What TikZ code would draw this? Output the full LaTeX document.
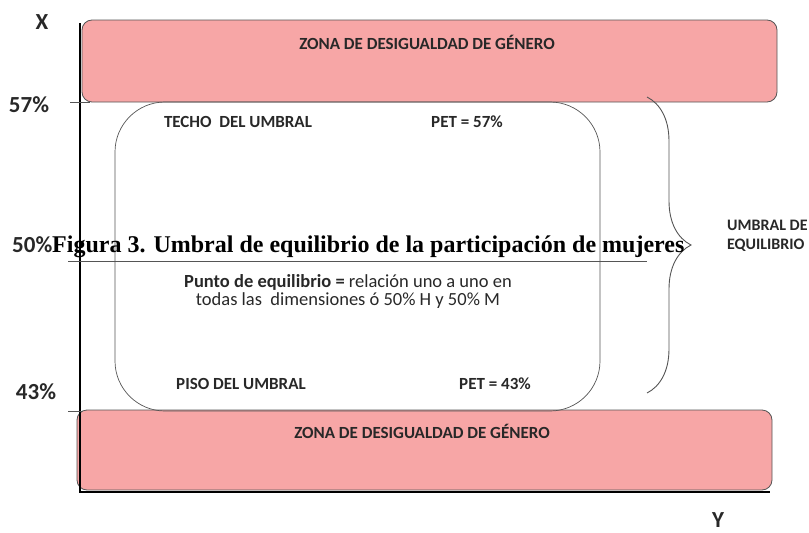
\documentclass[tikz,border=0pt]{standalone}
\usepackage{fontspec}
\setmainfont{Carlito}
\newfontfamily\figfont{Liberation Serif}
\usetikzlibrary{decorations.pathreplacing}
\definecolor{zonafill}{RGB}{247,166,166}
\definecolor{zonaline}{RGB}{85,85,85}
\definecolor{txtgray}{RGB}{40,40,40}

\begin{document}
\begin{tikzpicture}[x=1pt,y=-1pt]
	\tikzstyle{every node}+=[inner sep=0pt]
	\tikzstyle{zona}=[draw=zonaline, fill=zonafill, rounded corners=10pt, line width=0.8pt]
	\tikzstyle{umbral}=[draw=zonaline, rounded corners=50pt, line width=0.7pt]
	\tikzstyle{eje}=[black, line width=1.6pt]
	\tikzstyle{marca}=[zonaline, line width=0.8pt]
	\tikzstyle{caja}=[font=\fontsize{17}{18}\selectfont\bfseries, text=txtgray]
	\tikzstyle{pct}=[font=\fontsize{23}{24}\selectfont\bfseries, text=txtgray]
	\useasboundingbox (0,0) rectangle (809,533);
	% zonas de desigualdad
	\node[zona, minimum width=695pt, minimum height=82pt] (zonaSup) at (429.5,61) {};
	\node[zona, minimum width=695pt, minimum height=80pt] (zonaInf) at (424.5,450) {};
	\node[caja] (txtSup) at (427,42) {ZONA DE DESIGUALDAD DE GÉNERO};
	\node[caja] (txtInf) at (422,431) {ZONA DE DESIGUALDAD DE GÉNERO};
	% umbral
	\node[umbral, minimum width=485pt, minimum height=309pt] (umbral) at (357.5,256.5) {};
	\node[caja] (techo) at (238,122) {TECHO \ DEL UMBRAL};
	\node[caja] (petSup) at (467,122) {PET = 57\%};
	\node[caja] (piso) at (241,384) {PISO DEL UMBRAL};
	\node[caja] (petInf) at (495,384) {PET = 43\%};
	\node[font=\fontsize{18.5}{18}\selectfont, text=txtgray, align=center] (punto) at (348,291)
		{\textbf{Punto de equilibrio =} relación uno a uno en\\todas las \ dimensiones ó 50\% H y 50\% M};
	% ejes
	\coordinate (ejeTop) at (80,23);
	\coordinate (origen) at (80,492);
	\coordinate (ejeFin) at (770,492);
	\draw[eje] (ejeTop) -- (origen) -- (ejeFin);
	\draw[marca] (70,102) -- (90,102);
	\draw[marca] (68,411) -- (82,411);
	\draw[marca] (68,261) -- (647,261);
	\node[pct] (ejeX) at (42,22) {X};
	\node[pct, anchor=base] (ejeY) at (718,527) {Y};
	\node[pct] (p57) at (29,105) {57\%};
	\node[pct, anchor=base west] (p50) at (12,252) {50\%};
	\node[pct] (p43) at (36,392) {43\%};
	% llave
	\coordinate (llaveSup) at (647,97);
	\coordinate (llaveInf) at (647,393);
	\draw[zonaline, line width=0.9pt, decorate, decoration={brace, amplitude=44pt}] (llaveSup) -- (llaveInf);
	\node[font=\fontsize{16}{19}\selectfont\bfseries, text=txtgray, align=left, anchor=north west] (umbralEq) at (727,220) {UMBRAL DE\\EQUILIBRIO};
	% titulo
	\node[anchor=base west, font=\figfont\bfseries\fontsize{24}{26}\selectfont] (titulo) at (52,252)
		{Figura 3. Umbral de equilibrio de la participación de mujeres};
\end{tikzpicture}
\end{document}
